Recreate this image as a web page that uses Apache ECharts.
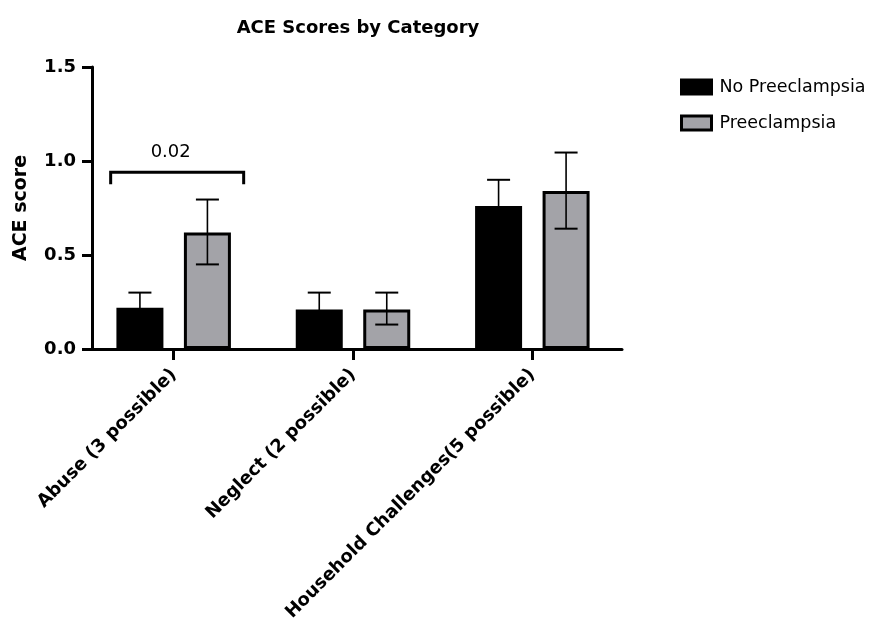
<!DOCTYPE html>
<html>
<head>
<meta charset="utf-8">
<script src="https://cdn.jsdelivr.net/npm/echarts@6/dist/echarts.min.js"></script>
<style>html,body{margin:0;padding:0;background:#fff}#c{width:877px;height:621px}</style>
</head>
<body>
<div id="c"></div>
<script>
const categories = ['Abuse (3 possible)', 'Neglect (2 possible)', 'Household Challenges(5 possible)'];
const seriesNames = ['No Preeclampsia', 'Preeclampsia'];
const noPreMean = [0.22, 0.21, 0.76];
const noPreLow  = [0.13, 0.12, 0.61];
const noPreHigh = [0.30, 0.30, 0.90];
const preMean = [0.62, 0.21, 0.84];
const preLow  = [0.45, 0.13, 0.64];
const preHigh = [0.795, 0.30, 1.045];
const yTicks = [0, 0.5, 1.0, 1.5];
const bracketCategory = 0;
const bracketValue = 0.94;
const bracketLabel = '0.02';

const FONT = '"DejaVu Sans", Arial, sans-serif';
const BAR_OFFSET = 33.75;

function errData(low, high) {
  return categories.map((c, i) => [i, low[i], high[i]]);
}
function errRender(offset) {
  return function (params, api) {
    const i = api.value(0);
    const lo = api.coord([i, api.value(1)]);
    const hi = api.coord([i, api.value(2)]);
    const x = lo[0] + offset;
    const cap = 11.5;
    const st = { stroke: '#000', lineWidth: 1.6, fill: null };
    const capSt = { stroke: '#000', lineWidth: 2, fill: null };
    return {
      type: 'group',
      children: [
        { type: 'line', shape: { x1: x, y1: lo[1], x2: x, y2: hi[1] }, style: st },
        { type: 'line', shape: { x1: x - cap, y1: hi[1], x2: x + cap, y2: hi[1] }, style: capSt },
        { type: 'line', shape: { x1: x - cap, y1: lo[1], x2: x + cap, y2: lo[1] }, style: capSt }
      ]
    };
  };
}

const chart = echarts.init(document.getElementById('c'));
chart.setOption({
  backgroundColor: '#fff',
  animation: false,
  title: {
    text: 'ACE Scores by Category',
    left: 353, top: 14, textAlign: 'center',
    textStyle: { fontFamily: FONT, fontSize: 18, fontWeight: 'bold', color: '#000' }
  },
  legend: {
    orient: 'vertical',
    left: 675, top: 73,
    itemWidth: 30, itemHeight: 14,
    itemGap: 18,
    icon: 'rect',
    data: seriesNames,
    textStyle: { fontFamily: FONT, fontSize: 17.5, color: '#000', padding: [0, 0, 0, 3] },
    itemStyle: { borderColor: '#000', borderWidth: 3 }
  },
  grid: { left: 84, top: 67, width: 538, bottom: 272, containLabel: false, outerBoundsMode: 'none' },
  xAxis: {
    type: 'category',
    data: categories,
    axisLine: { lineStyle: { color: '#000', width: 3 } },
    axisTick: { show: true, interval: 0, alignWithLabel: true, length: 11, lineStyle: { color: '#000', width: 3 } },
    axisLabel: {
      rotate: 45, margin: 23, interval: 0,
      fontFamily: FONT, fontSize: 18, fontWeight: 'bold', color: '#000'
    }
  },
  yAxis: {
    type: 'value',
    min: 0, max: 1.5, interval: 0.5,
    offset: -8,
    name: 'ACE score',
    nameLocation: 'middle',
    nameGap: 61,
    nameTextStyle: { fontFamily: FONT, fontSize: 19, fontWeight: 'bold', color: '#000' },
    axisLine: { show: true, lineStyle: { color: '#000', width: 3 } },
    axisTick: { show: true, length: 10, lineStyle: { color: '#000', width: 3 } },
    splitLine: { show: false },
    axisLabel: {
      margin: 16,
      fontFamily: FONT, fontSize: 18, fontWeight: 'bold', color: '#000',
      formatter: v => yTicks.includes(v) ? v.toFixed(1) : ''
    }
  },
  series: [
    {
      name: seriesNames[0], type: 'bar', data: noPreMean,
      barWidth: 47, barGap: '43.6%',
      itemStyle: { color: '#000', borderColor: '#000', borderWidth: 3 }
    },
    {
      name: seriesNames[1], type: 'bar', data: preMean,
      barWidth: 47, barGap: '43.6%',
      itemStyle: { color: '#a3a3a8', borderColor: '#000', borderWidth: 3 }
    },
    {
      type: 'custom', coordinateSystem: 'cartesian2d', z: 5,
      encode: { x: 0, y: [1, 2] },
      data: errData(noPreLow, noPreHigh),
      renderItem: errRender(-BAR_OFFSET), silent: true
    },
    {
      type: 'custom', coordinateSystem: 'cartesian2d', z: 5,
      encode: { x: 0, y: [1, 2] },
      data: errData(preLow, preHigh),
      renderItem: errRender(BAR_OFFSET), silent: true
    },
    {
      type: 'custom', coordinateSystem: 'cartesian2d', z: 5, silent: true,
      encode: { x: 0, y: 1 },
      data: [[bracketCategory, bracketValue]],
      renderItem: function (params, api) {
        const p = api.coord([api.value(0), api.value(1)]);
        const x1 = p[0] - 63, x2 = p[0] + 70, y = p[1];
        return {
          type: 'group',
          children: [
            { type: 'polyline', shape: { points: [[x1, y + 12], [x1, y], [x2, y], [x2, y + 12]] },
              style: { stroke: '#000', lineWidth: 3, fill: null } },
            { type: 'text', x: p[0] - 3, y: y - 11,
              style: { text: bracketLabel, fontFamily: FONT, fontSize: 18, fill: '#000', align: 'center', verticalAlign: 'bottom' } }
          ]
        };
      }
    }
  ]
});
</script>
</body>
</html>
